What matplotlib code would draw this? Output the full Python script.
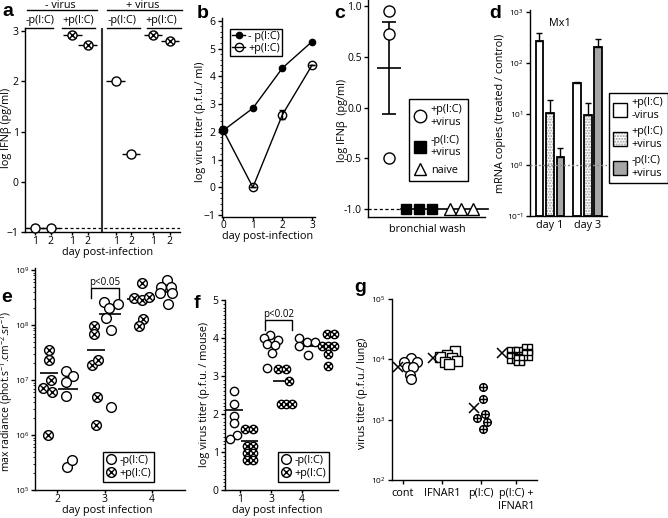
import numpy as np
import matplotlib
matplotlib.use('Agg')
import matplotlib.pyplot as plt
from matplotlib.path import Path
from matplotlib.lines import Line2D
from matplotlib.patches import Patch
from matplotlib.ticker import AutoMinorLocator, LogLocator, NullLocator, FuncFormatter

plt.rcParams['font.family'] = ['Open Sans', 'DejaVu Sans']
plt.rcParams['font.size'] = 7.5
plt.rcParams['axes.linewidth'] = 1.0
plt.rcParams['xtick.major.width'] = 1.0
plt.rcParams['ytick.major.width'] = 1.0
plt.rcParams['xtick.major.size'] = 3
plt.rcParams['ytick.major.size'] = 3
plt.rcParams['xtick.major.pad'] = 1.0
plt.rcParams['ytick.major.pad'] = 1.5
plt.rcParams['mathtext.default'] = 'regular'
FS = 7.8

# ---------------- data ----------------
# a: log IFNb (pg/ml), day 1 / day 2
a_days = ['1', '2']
a_novirus_minus = [-0.92, -0.92]
a_novirus_plus = [2.92, 2.73]
a_virus_minus = [2.00, 0.56]
a_virus_plus = [2.92, 2.81]
a_limit = -0.92

# b: log virus titer
b_days = [0, 1, 2, 3]
b_minus = [2.05, 2.85, 4.30, 5.25]
b_plus = [2.05, 0.00, 2.62, 4.40]
b_plus_err = [0, 0, 0.15, 0]

# c: log IFNb in bronchial wash
c_pic_virus = [0.95, 0.72, -0.50]
c_pic_mean = 0.39
c_pic_err = 0.455
c_nopic_virus = [-1.0, -1.0, -1.0]
c_naive = [-1.0, -1.0, -1.0]
c_limit = -1.0

# d: Mx1 mRNA (treated / control)
d_groups = ['day 1', 'day 3']
d_pic_novirus = [265, 40.5]
d_pic_novirus_err = [115, 2]
d_pic_virus = [10.5, 9.7]
d_pic_virus_err = [8.5, 6.5]
d_nopic_virus = [1.45, 208]
d_nopic_virus_err = [0.75, 82]

# e: max radiance
e_days = [2, 3, 4]
e_plus = [[3.5e7, 2.3e7, 1.0e7, 7.3e6, 6.0e6, 1.0e6],
          [9.5e7, 6.9e7, 1.9e7, 2.3e7, 4.9e6, 1.5e6],
          [3.1e8, 2.9e8, 3.2e8, 1.3e8, 9.5e7, 5.9e8]]
e_minus = [[1.45e7, 1.18e7, 9.1e6, 5.1e6, 2.6e5, 3.5e5],
           [2.6e8, 2.4e8, 2.0e8, 1.35e8, 8.1e7, 3.3e6],
           [6.6e8, 4.9e8, 4.9e8, 3.8e8, 3.8e8, 2.4e8]]
e_plus_mean = [1.35e7, 3.5e7, 3.0e8]
e_minus_mean = [7.0e6, 1.6e8, 4.0e8]

# f: log virus titer (p.f.u. / mouse)
f_days = ['1', '3', '4']
f_minus = [[2.6, 2.26, 1.95, 1.76, 1.45, 1.34],
           [4.08, 4.0, 3.95, 3.85, 3.82, 3.6, 3.2],
           [4.0, 3.8, 3.9, 3.9, 3.55]]
f_plus = [[1.6, 1.6, 1.15, 1.15, 0.97, 0.97, 0.8, 0.8],
          [3.18, 3.18, 2.87, 2.26, 2.26, 2.26],
          [4.1, 4.1, 3.8, 3.8, 3.8, 3.58, 3.26]]
f_minus_mean = [2.1, None, 3.79]
f_plus_mean = [1.29, 2.87, 3.78]

# g: virus titer (p.f.u. / lung)
g_groups = ['cont', 'IFNAR1', 'p(I:C)', 'p(I:C) +\nIFNAR1']
g_cont = [1.05e4, 8.9e3, 8.9e3, 7.4e3, 7.4e3, 5.6e3, 4.8e3]
g_ifnar = [1.35e4, 1.2e4, 1.1e4, 1.05e4, 9.5e3, 8.9e3, 8.3e3]
g_pic = [3.5e3, 2.2e3, 1.26e3, 1.07e3, 9.3e2, 7.1e2]
g_pic_ifnar = [1.33e4, 1.3e4, 1.5e4, 1.05e4, 1.0e4, 1.2e4, 9.6e3]
g_means = [7.6e3, 1.07e4, 1.58e3, 1.28e4]

# ---------------- helpers ----------------
W, H = 668, 518
fig = plt.figure(figsize=(W / 100, H / 100), dpi=100)


def px_axes(x0, y0, x1, y1):
    ax = fig.add_axes([x0 / W, 1 - y1 / H, (x1 - x0) / W, (y1 - y0) / H])
    ax.spines[['top', 'right']].set_visible(False)
    return ax


def ftext(x, y, s, **kw):
    kw.setdefault('ha', 'center')
    kw.setdefault('va', 'center')
    kw.setdefault('fontsize', FS)
    fig.text(x / W, 1 - y / H, s, **kw)


def fline(x0, x1, y):
    fig.add_artist(Line2D([x0 / W, x1 / W], [1 - y / H] * 2, color='k', lw=1))


circ = Path.unit_circle()
k = 0.62
XCIRC = Path.make_compound_path(circ, Path([[-k, -k], [k, k], [-k, k], [k, -k]], [1, 2, 1, 2]))
PCIRC = Path.make_compound_path(circ, Path([[-1, 0], [1, 0], [0, -1], [0, 1]], [1, 2, 1, 2]))
sq = Path([[-1, -1], [1, -1], [1, 1], [-1, 1], [-1, -1]], [1, 2, 2, 2, 79])
GSQ = Path.make_compound_path(sq, Path([[-1, 0], [1, 0], [0, -1], [0, 1]], [1, 2, 1, 2]))


def pts(ax, x, y, marker, ms, mfc='white', mew=1.0, **kw):
    ax.plot(x, y, ls='none', marker=marker, ms=ms, mfc=mfc, mec='k', mew=mew,
            clip_on=False, zorder=3, **kw)


def logfmt(v, p):
    return '$10^{%d}$' % int(round(np.log10(v)))


def box_legend(ax, handles, labels, x, y, **kw):
    leg = ax.legend(handles, labels, loc='upper left', bbox_to_anchor=(x / W, 1 - y / H),
                    bbox_transform=fig.transFigure, borderaxespad=0, fancybox=False,
                    edgecolor='k', framealpha=1, fontsize=FS, **kw)
    leg.get_frame().set_linewidth(1.0)
    return leg


open_h = Line2D([], [], ls='none', marker='o', ms=7, mfc='white', mec='k', mew=1)
cross_h = Line2D([], [], ls='none', marker=XCIRC, ms=7, mfc='white', mec='k', mew=1)

# ---------------- panel a ----------------
ax = px_axes(25, 28, 180, 232)
ax.set_xlim(-0.65, 9.35)
ax.set_ylim(-1, 3.06)
a_pos = [[0, 1], [2.4, 3.4], [5.2, 6.2], [7.6, 8.7]]
ax.axhline(a_limit, color='k', lw=0.9, ls=(0, (2.5, 2)))
ax.axvline(4.32, color='#333333', lw=1.5)
for pos, vals, m in zip(a_pos, [a_novirus_minus, a_novirus_plus, a_virus_minus, a_virus_plus],
                        ['o', XCIRC, 'o', XCIRC]):
    pos = np.array(pos)
    ax.hlines(vals, pos - 0.6, pos + 0.6, color='k', lw=1, zorder=2)
    pts(ax, pos, vals, m, 6.5)
ax.set_xticks(sum(a_pos, []))
ax.set_xticklabels(a_days * 4)
ax.tick_params(axis='x', length=2.5, pad=0.5)
ax.set_yticks([-1, 0, 1, 2, 3])
ftext(7, 128, 'log IFN\u03b2 (pg/ml)', rotation=90)
ftext(108, 253, 'day post-infection')
ftext(60, 5, '- virus')
ftext(143, 5, '+ virus')
fline(27, 97, 10)
fline(107, 182, 10)
for cx, lab, x0, x1 in [(40, '-p(I:C)', 25, 53), (78, '+p(I:C)', 62, 95),
                        (122, '-p(I:C)', 107, 140), (161, '+p(I:C)', 147, 181)]:
    ftext(cx, 20, lab)
    fline(x0, x1, 28)

# ---------------- panel b ----------------
ax = px_axes(222, 18, 315, 217)
ax.set_xlim(-0.044, 3.1)
ax.set_ylim(-1.07, 6.1)
ax.plot(b_days, b_minus, '-o', color='k', ms=4.5, lw=1, clip_on=False, zorder=3)
ax.errorbar(b_days, b_plus, yerr=b_plus_err, fmt='-o', color='k', mfc='none', ms=6, lw=1,
            capsize=2, clip_on=False, zorder=3)
ax.set_xticks(b_days)
ax.tick_params(axis='x', length=2, pad=0.5, labelsize=7.2)
ax.set_yticks(range(-1, 7))
ax.yaxis.set_minor_locator(AutoMinorLocator(5))
ax.tick_params(axis='y', which='minor', length=1.5)
box_legend(ax, [Line2D([], [], color='k', marker='o', ms=4.5, lw=1),
                Line2D([], [], color='k', marker='o', mfc='none', ms=6, lw=1)],
           ['- p(I:C)', '+p(I:C)'], 230, 29, handlelength=1.2, handletextpad=0.3,
           borderpad=0.2, labelspacing=0.1)
ftext(201, 122, 'log virus titer (p.f.u./ ml)', rotation=90)
ftext(268, 237, 'day post-infection')

# ---------------- panel c ----------------
ax = px_axes(368, 0, 485, 217)
ax.set_xlim(-1.62, 7.38)
ax.set_ylim(-1.076, 1.059)
c_circle_x = 0
c_square_x = np.array([1.31, 2.31, 3.31])
c_tri_x = np.array([4.69, 5.54, 6.46])
ax.plot([-1.62, 0.95], [c_limit] * 2, color='k', ls=(0, (2.5, 2)), lw=0.9)
ax.plot([0.95, 7.6], [c_limit] * 2, color='k', lw=1.2, clip_on=False)
ax.errorbar(c_circle_x, c_pic_mean, yerr=c_pic_err, fmt='none', ecolor='k', elinewidth=1.2,
            capsize=5, capthick=1.2)
ax.hlines(c_pic_mean, -0.9, 0.9, color='k', lw=1.2)
pts(ax, [c_circle_x] * len(c_pic_virus), c_pic_virus, 'o', 8)
pts(ax, c_square_x, c_nopic_virus, 's', 6.8, mfc='k')
pts(ax, c_tri_x, c_naive, '^', 8)
ax.set_xticks([])
ax.set_yticks([1, 0.5, 0, -0.5, -1])
ax.set_yticklabels(['1.0', '0.5', '0.0', '-0.5', '-1.0'])
box_legend(ax, [Line2D([], [], ls='none', marker='o', ms=9, mfc='white', mec='k'),
                Line2D([], [], ls='none', marker='s', ms=8, mfc='k', mec='k'),
                Line2D([], [], ls='none', marker='^', ms=9, mfc='white', mec='k')],
           ['+p(I:C)\n+virus', '-p(I:C)\n+virus', 'naive'], 409, 99,
           handlelength=1.0, handletextpad=0.5, borderpad=0.5, labelspacing=0.6)
ftext(342, 120, 'log IFN\u03b2  (pg/ml)', rotation=90)
ftext(427, 229, 'bronchial wash')

# ---------------- panel d ----------------
ax = px_axes(530, 10, 607, 216)
ax.set_yscale('log')
ax.set_ylim(0.1, 1094)
ax.set_xlim(-0.9, 6.43)
d_x = np.array([0, 3.6])
bw = 0.72
gray = '#a6a6a6'
ax.bar(d_x, np.array(d_pic_novirus) - 0.1, bw, bottom=0.1, color='white', edgecolor='k', lw=1.3)
ax.bar(d_x + 1, np.array(d_pic_virus) - 0.1, bw, bottom=0.1, color='white', edgecolor='#9a9a9a',
       hatch='......', lw=0)
ax.bar(d_x + 1, np.array(d_pic_virus) - 0.1, bw, bottom=0.1, fill=False, edgecolor='k', lw=1.3)
ax.bar(d_x + 2, np.array(d_nopic_virus) - 0.1, bw, bottom=0.1, color=gray, edgecolor='k', lw=1.3)
for off, vals, err in [(0, d_pic_novirus, d_pic_novirus_err), (1, d_pic_virus, d_pic_virus_err),
                       (2, d_nopic_virus, d_nopic_virus_err)]:
    ax.errorbar(d_x + off, vals, yerr=[np.zeros(2), err], fmt='none', ecolor='k', elinewidth=1,
                capsize=2.5, capthick=1)
ax.axhline(1, color='#888888', ls=(0, (1.5, 1.5)), lw=1, zorder=4)
ax.yaxis.set_major_locator(LogLocator(base=10, numticks=10))
ax.yaxis.set_major_formatter(FuncFormatter(logfmt))
ax.yaxis.set_minor_locator(NullLocator())
ax.tick_params(axis='y', labelsize=6)
ax.set_xticks(d_x + 1)
ax.set_xticklabels(d_groups, fontsize=FS)
ax.tick_params(axis='x', length=0, pad=3)
ftext(560, 23, 'Mx1')
ftext(500, 113, 'mRNA copies (treated / control)', rotation=90)
box_legend(ax, [Patch(facecolor='white', edgecolor='k'),
                (Patch(facecolor='white', edgecolor='#9a9a9a', hatch='......', lw=0),
                 Patch(fill=False, edgecolor='k')),
                Patch(facecolor=gray, edgecolor='k')],
           ['+p(I:C)\n-virus', '+p(I:C)\n+virus', '-p(I:C)\n+virus'], 609, 93,
           handlelength=1.3, handleheight=1.6, handletextpad=0.4, borderpad=0.4, labelspacing=0.5)

# ---------------- panel e ----------------
ax = px_axes(35, 268, 185, 490)
ax.set_yscale('log')
ax.set_ylim(1e5, 1.09e9)
ax.set_xlim(1.53, 4.7)
e_jit_plus = [[-0.17, -0.17, -0.13, -0.30, -0.11, -0.19],
              [-0.23, -0.23, -0.26, -0.13, -0.17, -0.19],
              [-0.38, -0.21, -0.06, -0.19, -0.28, -0.21]]
e_jit_minus = [[0.19, 0.34, 0.19, 0.19, 0.21, 0.32],
               [-0.02, 0.28, 0.09, 0.02, 0.13, 0.13],
               [0.32, 0.19, 0.40, 0.17, 0.43, 0.34]]
e_span_plus = [(-0.36, 0.02), (-0.38, 0.0), (-0.53, 0.06)]
e_span_minus = [(0.02, 0.43), (-0.11, 0.34), (0.11, 0.53)]
for i, d in enumerate(e_days):
    ax.hlines(e_plus_mean[i], d + e_span_plus[i][0], d + e_span_plus[i][1], color='k', lw=1.2)
    ax.hlines(e_minus_mean[i], d + e_span_minus[i][0], d + e_span_minus[i][1], color='k', lw=1.2)
    pts(ax, d + np.array(e_jit_plus[i]), e_plus[i], XCIRC, 7)
    pts(ax, d + np.array(e_jit_minus[i]), e_minus[i], 'o', 7)
ax.plot([2.72, 2.72, 3.3, 3.3], [3.1e8, 4.7e8, 4.7e8, 3.1e8], color='k', lw=1)
ax.text(3.01, 6.0e8, 'p<0.05', ha='center', va='center', fontsize=7)
ax.set_xticks(e_days)
ax.tick_params(axis='x', length=2.5, pad=0.5)
ax.yaxis.set_major_locator(LogLocator(base=10, numticks=10))
ax.yaxis.set_major_formatter(FuncFormatter(logfmt))
ax.yaxis.set_minor_locator(LogLocator(base=10, subs=np.arange(2, 10), numticks=10))
ax.tick_params(axis='y', which='minor', length=1.5)
ax.tick_params(axis='y', labelsize=6, pad=1)
box_legend(ax, [open_h, cross_h], ['-p(I:C)', '+p(I:C)'], 103, 452,
           handlelength=0.8, handletextpad=0.4, borderpad=0.3, labelspacing=0.15)
ftext(7, 391, 'max radiance (phot.s$^{-1}$.cm$^{-2}$.sr$^{-1}$)', rotation=90, fontsize=7.5)
ftext(107, 510, 'day post infection')

# ---------------- panel f ----------------
ax = px_axes(225, 300, 338, 490)
ax.set_ylim(0, 5)
ax.set_xlim(0.516, 4.16)
f_pos = [1, 2, 3]
f_jit_minus = [[-0.19, -0.19, -0.19, -0.19, -0.1, -0.32],
               [-0.03, -0.23, 0.23, -0.13, 0.13, 0.03, -0.13],
               [-0.1, -0.1, 0.16, 0.42, 0.19]]
f_jit_plus = [[0.16, 0.42, 0.23, 0.42, 0.23, 0.42, 0.23, 0.42],
              [0.23, 0.48, 0.58, 0.32, 0.48, 0.68],
              [0.81, 1.03, 0.65, 0.84, 1.03, 0.84, 0.84]]
f_span_minus = [(-0.45, 0.1), None, (-0.19, 0.58)]
f_span_plus = [(0.03, 0.58), (0.06, 0.55), (0.58, 1.1)]
for i, p in enumerate(f_pos):
    if f_minus_mean[i] is not None:
        ax.hlines(f_minus_mean[i], p + f_span_minus[i][0], p + f_span_minus[i][1], color='k', lw=1.2)
    ax.hlines(f_plus_mean[i], p + f_span_plus[i][0], p + f_span_plus[i][1], color='k', lw=1.2)
    pts(ax, p + np.array(f_jit_minus[i]), f_minus[i], 'o', 6)
    pts(ax, p + np.array(f_jit_plus[i]), f_plus[i], XCIRC, 6)
ax.plot([1.81, 1.81, 2.68, 2.68], [4.21, 4.47, 4.47, 4.21], color='k', lw=1)
ax.text(2.25, 4.63, 'p<0.02', ha='center', va='center', fontsize=7)
ax.set_xticks(f_pos)
ax.set_xticklabels(f_days)
ax.tick_params(axis='x', length=2.5, pad=0.5)
ax.set_yticks(range(6))
ax.yaxis.set_minor_locator(AutoMinorLocator(10))
ax.tick_params(axis='y', which='minor', length=1.5)
box_legend(ax, [open_h, cross_h], ['-p(I:C)', '+p(I:C)'], 278, 452,
           handlelength=0.8, handletextpad=0.4, borderpad=0.3, labelspacing=0.15)
ftext(205, 394, 'log virus titer (p.f.u. / mouse)', rotation=90)
ftext(277, 510, 'day post infection')

# ---------------- panel g ----------------
ax = px_axes(392, 299, 537, 480)
ax.set_yscale('log')
ax.set_ylim(1e2, 1e5)
ax.set_xlim(-0.28, 3.44)
g_pos = [0, 1, 2, 2.9]
g_jit = [[0.21, 0.03, 0.36, 0.10, 0.26, 0.18, 0.21],
         [0.33, 0.13, -0.05, 0.26, 0.38, 0.08, 0.18],
         [0.05, 0.05, 0.10, -0.10, 0.15, 0.05],
         [-0.10, 0.08, 0.28, -0.10, 0.08, 0.28, 0.08]]
g_mean_off = [-0.13, -0.23, -0.18, -0.36]
g_marks = [('o', 7), ('s', 7.5), (PCIRC, 5.5), (GSQ, 6.5)]
for i, vals in enumerate([g_cont, g_ifnar, g_pic, g_pic_ifnar]):
    pts(ax, g_pos[i] + np.array(g_jit[i]), vals, g_marks[i][0], g_marks[i][1])
    ax.plot(g_pos[i] + g_mean_off[i], g_means[i], 'kx', ms=7, mew=1.1, zorder=4)
ax.set_xticks(g_pos)
ax.set_xticklabels(g_groups, fontsize=FS, va='top')
ax.tick_params(axis='x', pad=3)
ax.yaxis.set_major_locator(LogLocator(base=10, numticks=10))
ax.yaxis.set_major_formatter(FuncFormatter(logfmt))
ax.yaxis.set_minor_locator(NullLocator())
ax.tick_params(axis='y', labelsize=6)
ftext(362, 393, 'virus titer (p.f.u./ lung)', rotation=90)

# ---------------- panel letters ----------------
for lab, x, y in [('a', 8, 12), ('b', 203, 13), ('c', 340, 13), ('d', 495, 13),
                  ('e', 7, 298), ('f', 197, 303), ('g', 360, 287)]:
    ftext(x, y, lab, fontsize=14, fontweight='bold', family='Liberation Sans')

fig.savefig('out.png', dpi=100)
